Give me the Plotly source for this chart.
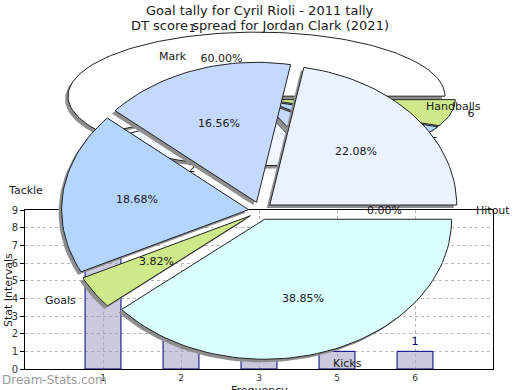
import numpy as np
import plotly.graph_objects as go

# ---------------- data ----------------
title_lines = ["Goal tally for Cyril Rioli - 2011 tally",
               "DT score spread for Jordan Clark (2021)"]

# chart 1: goal tally (bar chart + tilted pie)
goal_categories = ["1", "2", "3", "5", "6"]
goal_counts = [9, 3, 1, 1, 1]
goal_slice_colors = ["#ffffff", "#f2f6ff", "#c5d9ff", "#b5d6ff", "#cde98a"]

# chart 2: DT score spread
dt_labels = ["Handballs", "Mark", "Tackle", "Goals", "Kicks", "Hitout"]
dt_percent = [22.08, 16.56, 18.68, 3.82, 38.85, 0.00]
dt_colors = ["#eaf1ff", "#c5d9ff", "#b3d5ff", "#cde98a", "#d9ffff", "#ffffff"]

y_ticks = list(range(10))
y_title = "Stat Intervals"
x_title = "Frequency"
watermark = "Dream-Stats.com"

# ---------------- layout constants ----------------
W, H = 520, 390
FONT = "DejaVu Sans"
TXT = "#1a1a1a"

fig = go.Figure()

# bar chart (bottom layer)
fig.add_trace(go.Bar(
    x=goal_categories, y=goal_counts, width=0.46,
    marker=dict(color="rgba(150,150,192,0.5)", line=dict(color="#000080", width=1)),
    text=[str(v) for v in goal_counts], textposition="outside",
    textfont=dict(family=FONT, size=11, color="#000080"), cliponaxis=False,
    xaxis="x", yaxis="y", showlegend=False, hoverinfo="skip"))


def spans_of(values):
    total = float(sum(values))
    out, a = [], 0.0
    for v in values:
        s = 2 * np.pi * v / total
        out.append((a, a + s))
        a += s
    return out


def wedge(cx, cy, rx, ry, a0, a1):
    n = max(2, int(np.degrees(a1 - a0) / 2) + 2)
    t = np.linspace(a0, a1, n)
    xs = np.concatenate([[cx], cx + rx * np.cos(t), [cx]])
    ys = np.concatenate([[cy], cy - ry * np.sin(t), [cy]])
    return xs, ys


def draw_pie(values, colors, cx, cy, rx, ry, ex, ey, sh=(-3, 3)):
    spans = spans_of(values)
    apexes = []
    for a0, a1 in spans:
        m = (a0 + a1) / 2
        apexes.append((cx + ex * np.cos(m), cy - ey * np.sin(m), m))
    for (a0, a1), (px, py, m) in zip(spans, apexes):
        if a1 - a0 <= 0:
            continue
        xs, ys = wedge(px + sh[0], py + sh[1], rx, ry, a0, a1)
        fig.add_trace(go.Scatter(x=xs, y=ys, mode="lines", fill="toself",
                                 fillcolor="#8e8e8e", line=dict(width=0),
                                 xaxis="x2", yaxis="y2", hoverinfo="skip",
                                 showlegend=False))
    for (a0, a1), (px, py, m), c in zip(spans, apexes, colors):
        if a1 - a0 <= 0:
            continue
        xs, ys = wedge(px, py, rx, ry, a0, a1)
        fig.add_trace(go.Scatter(x=xs, y=ys, mode="lines", fill="toself",
                                 fillcolor=c, line=dict(color="#222222", width=1),
                                 xaxis="x2", yaxis="y2", hoverinfo="skip",
                                 showlegend=False))
    return spans, apexes


# ---- tilted pie of chart 1 ----
E_CX, E_CY, E_RX, E_RY = 259, 99, 188.5, 64
spans1, apex1 = draw_pie(goal_counts, goal_slice_colors, E_CX, E_CY, E_RX, E_RY, 8, 3)
tot1 = float(sum(goal_counts))
lx, ly, px_, py_, pt = [], [], [], [], []
for (a0, a1), (ax_, ay_, m), v in zip(spans1, apex1, goal_counts):
    lx.append(E_CX + 1.15 * E_RX * np.cos(m))
    ly.append(E_CY - 1.15 * E_RY * np.sin(m))
    px_.append(ax_ + 0.6 * E_RX * np.cos(m))
    py_.append(ay_ - 0.6 * E_RY * np.sin(m))
    pt.append(f"{100 * v / tot1:.2f}%")
fig.add_trace(go.Scatter(x=lx, y=ly, mode="text", text=goal_categories,
                         textfont=dict(family=FONT, size=11, color=TXT),
                         xaxis="x2", yaxis="y2", hoverinfo="skip", showlegend=False))
fig.add_trace(go.Scatter(x=px_, y=py_, mode="text", text=pt,
                         textfont=dict(family=FONT, size=11, color=TXT),
                         xaxis="x2", yaxis="y2", hoverinfo="skip", showlegend=False))

# ---- exploded pie of chart 2 ----
D_CX, D_CY, D_RX, D_RY = 260.5, 210.8, 187, 140
spans2, apex2 = draw_pie(dt_percent, dt_colors, D_CX, D_CY, D_RX, D_RY, 12, 9)

annotations = []
for (a0, a1), (ax_, ay_, m), lab, v in zip(spans2, apex2, dt_labels, dt_percent):
    c, s = np.cos(m), np.sin(m)
    annotations.append(dict(
        x=ax_ + 0.6 * D_RX * c, y=ay_ - 0.6 * D_RY * s, text=f"{v:.2f}%",
        xref="x2", yref="y2", showarrow=False,
        font=dict(family=FONT, size=11, color=TXT)))
    anchor = "left" if c > 0.05 else ("right" if c < -0.05 else "center")
    shift = -4 if anchor == "left" else 0
    annotations.append(dict(
        x=ax_ + 1.1 * D_RX * c + shift, y=ay_ - 1.1 * D_RY * s, text=lab,
        xref="x2", yref="y2", showarrow=False,
        xanchor=anchor, yanchor="middle",
        font=dict(family=FONT, size=11, color=TXT)))

annotations += [
    dict(x=W / 2, y=10, text=title_lines[0], xref="x2", yref="y2", showarrow=False,
         font=dict(family=FONT, size=13, color=TXT)),
    dict(x=W / 2, y=25, text=title_lines[1], xref="x2", yref="y2", showarrow=False,
         font=dict(family=FONT, size=13, color=TXT)),
    dict(x=8, y=290, text=y_title, textangle=-90, xref="x2", yref="y2", showarrow=False,
         font=dict(family=FONT, size=11, color=TXT)),
    dict(x=259, y=382, text=x_title, yanchor="top", xref="x2", yref="y2", showarrow=False,
         font=dict(family=FONT, size=11, color=TXT)),
    dict(x=0, y=380, text=watermark, xanchor="left", xref="x2", yref="y2", showarrow=False,
         font=dict(family=FONT, size=12, color="#9a9a9a")),
]

fig.update_layout(
    width=W, height=H, margin=dict(l=0, r=0, t=0, b=0, pad=0), autosize=False,
    paper_bgcolor="white", plot_bgcolor="rgba(0,0,0,0)", showlegend=False,
    xaxis=dict(domain=[25 / W, 493 / W], type="category", range=[-1, 5],
               showgrid=True, gridcolor="#b8b8b8", griddash="dot", gridwidth=1,
               showline=True, linecolor="black", linewidth=1, mirror=True,
               ticks="", tickfont=dict(family=FONT, size=9, color="#333"),
               zeroline=False, fixedrange=True, anchor="y", automargin=False),
    yaxis=dict(domain=[(H - 369) / H, (H - 210) / H], range=[0, 9],
               tickvals=y_ticks, ticks="outside", ticklen=4, tickcolor="black",
               showgrid=True, gridcolor="#b8b8b8", griddash="dot", gridwidth=1,
               showline=True, linecolor="black", linewidth=1, mirror=True,
               tickfont=dict(family=FONT, size=10, color="#333"),
               zeroline=False, fixedrange=True, anchor="x", automargin=False),
    xaxis2=dict(domain=[0, 1], range=[0, W], visible=False, anchor="y2",
                fixedrange=True, automargin=False),
    yaxis2=dict(domain=[0, 1], range=[H, 0], visible=False, anchor="x2",
                fixedrange=True, automargin=False),
    annotations=annotations,
)

fig.write_html("out.html", config={"displayModeBar": False},
               post_script="document.body.style.margin='0px';document.body.style.overflow='hidden';")
